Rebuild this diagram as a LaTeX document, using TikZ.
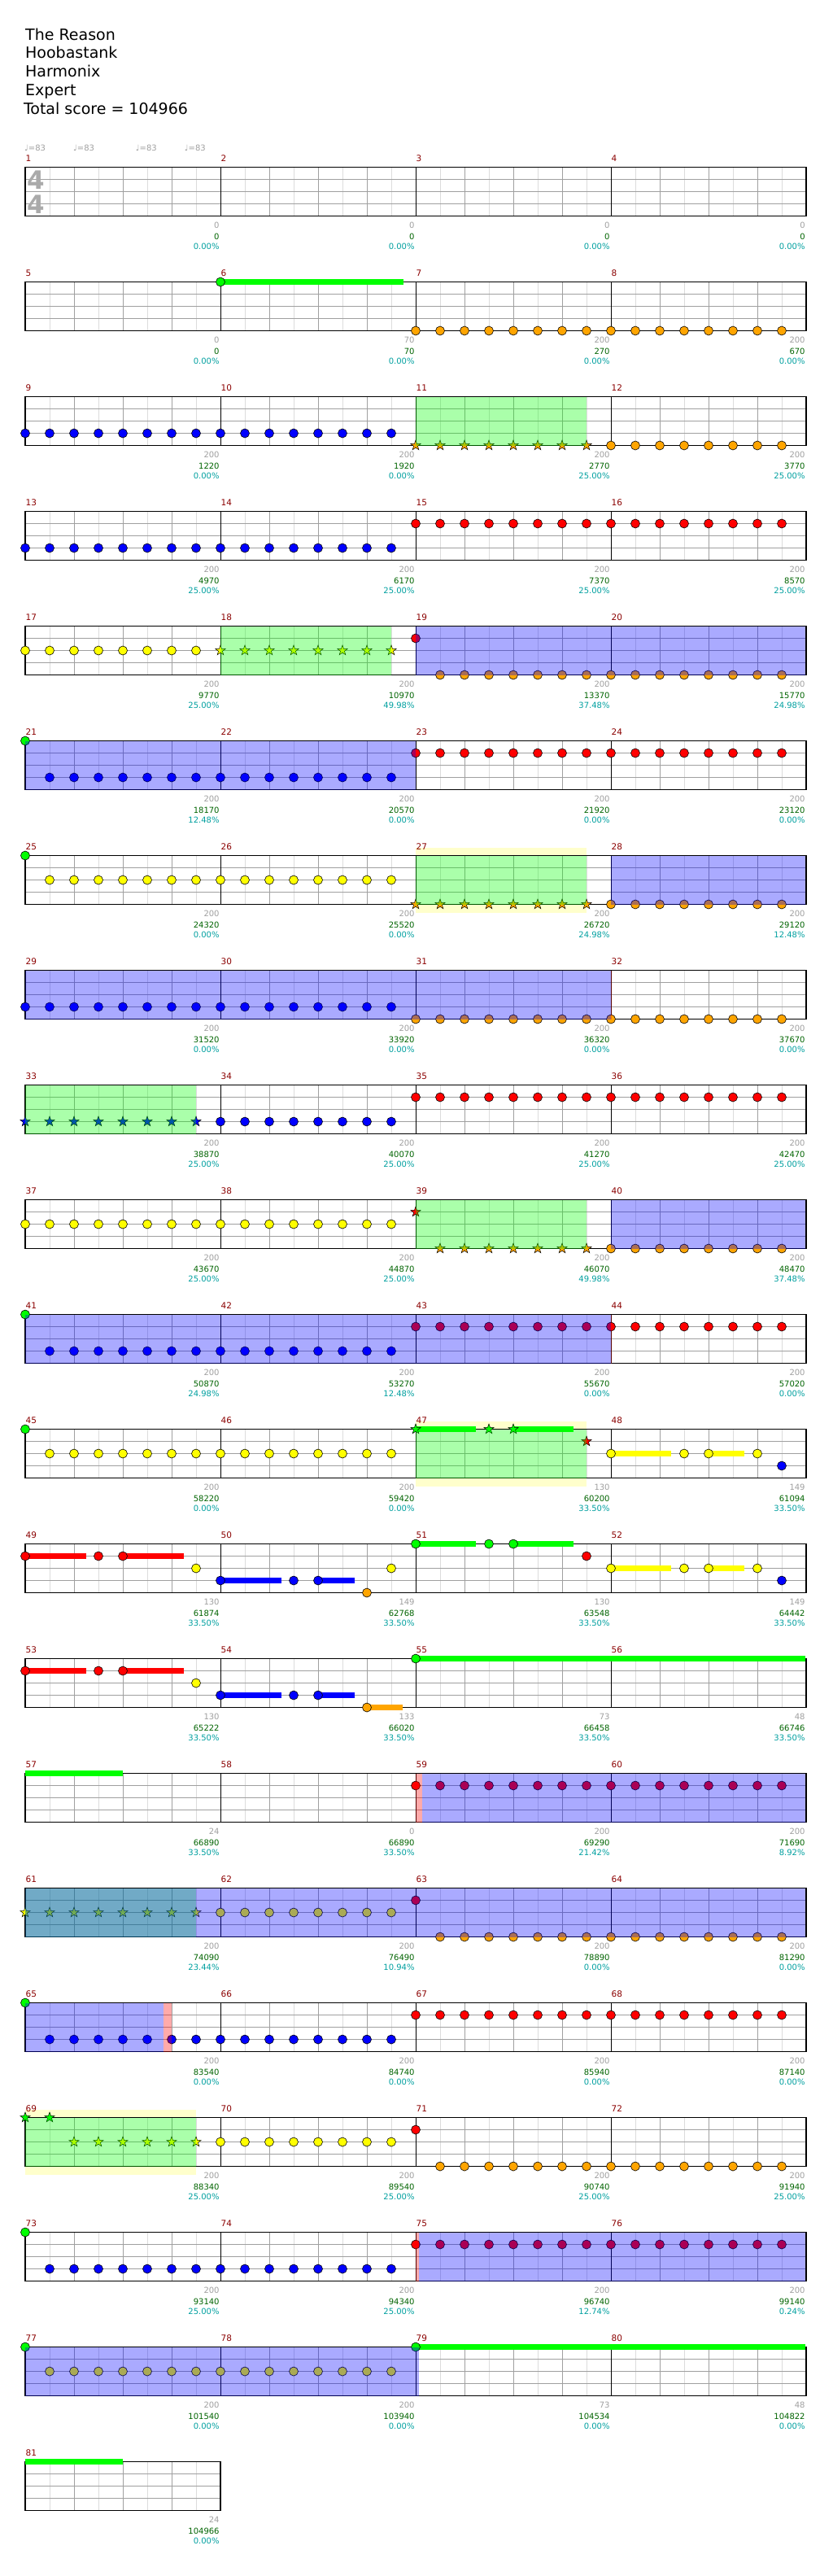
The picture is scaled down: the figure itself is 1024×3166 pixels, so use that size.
\documentclass[tikz,border=0pt]{standalone}
\usepackage{fontspec}
\setmainfont{DejaVu Sans}
\definecolor{sgray}{HTML}{A0A0A0}
\definecolor{tgreen}{HTML}{006400}
\definecolor{pcyan}{HTML}{00A0A0}
\definecolor{mred}{HTML}{8B0000}
\definecolor{gridd}{HTML}{A0A0A0}
\definecolor{gridl}{HTML}{DCDCDC}
\definecolor{nG}{HTML}{00FF00}
\definecolor{nR}{HTML}{FF0000}
\definecolor{nY}{HTML}{FFFF00}
\definecolor{nB}{HTML}{0000FF}
\definecolor{nO}{HTML}{FFA500}
\definecolor{paley}{HTML}{FFFFCC}
\definecolor{tsig}{HTML}{AAAAAA}
\tikzset{
  lbl/.style={font=\fontsize{10}{12}\selectfont, inner sep=0pt},
  mnum/.style={font=\fontsize{10.5}{12}\selectfont, text=mred, inner sep=0pt, anchor=base west},
  ttl/.style={font=\fontsize{19}{23}\selectfont, inner sep=0pt, anchor=base west},
  tmp/.style={font=\fontsize{10}{12}\selectfont, text=sgray, inner sep=0pt, anchor=base west},
  tsg/.style={font=\fontsize{31}{31}\selectfont\bfseries, text=tsig, inner sep=0pt},
  notestyle/.style={draw=black, line width=0.6pt},
  starstyle/.style={draw=black, line width=0.5pt, line join=miter}
}
% note: row, pos, lane, colour
\newcommand{\Nt}[4]{\filldraw[notestyle,fill=#4] ({31+30*#2},{205.5+141*#1+15*#3}) circle[radius=5.5pt];}
\newcommand{\Nts}[5]{\foreach \q in {#2,...,#3}{\Nt{#1}{\q}{#4}{#5}}}
% star: row, pos, lane, colour
\newcommand{\St}[4]{\filldraw[starstyle,fill=#4,shift={({31+30*#2},{205.5+141*#1+15*#3})}] (90:6.5pt) -- (126:2.6pt) -- (162:6.5pt) -- (198:2.6pt) -- (234:6.5pt) -- (270:2.6pt) -- (306:6.5pt) -- (342:2.6pt) -- (18:6.5pt) -- (54:2.6pt) -- cycle;}
\newcommand{\Sts}[5]{\foreach \q in {#2,...,#3}{\St{#1}{\q}{#4}{#5}}}
% sustain: row, x1, x2, lane, colour
\newcommand{\Su}[5]{\fill[#5] ({#2},{205.5+141*#1+15*#4-3.4}) rectangle ({#3},{205.5+141*#1+15*#4+3.4});}
% overlay region: row, x1, x2, colour
\newcommand{\Rg}[4]{\fill[#4,fill opacity=0.333] ({#2},{205.5+141*#1}) rectangle ({#3},{205.5+141*#1+60});}
% pale yellow bands above and below the staff: row, x1, x2
\newcommand{\Yr}[3]{\fill[paley] ({#2},{205.5+141*#1-10}) rectangle ({#3},{205.5+141*#1});
  \fill[paley] ({#2},{205.5+141*#1+60}) rectangle ({#3},{205.5+141*#1+70});}
% staff: row, number of measures
\newcommand{\Staff}[2]{%
  \pgfmathsetmacro{\ty}{205.5+141*#1}%
  \pgfmathsetmacro{\xe}{31+240*#2}%
  \pgfmathtruncatemacro{\nk}{8*#2-1}%
  \foreach \k in {1,3,...,\nk}{\draw[gridl,line width=1pt] ({31+30*\k},\ty) -- ({31+30*\k},{\ty+60});}
  \foreach \k in {2,4,...,\nk}{\draw[gridd,line width=1pt] ({31+30*\k},\ty) -- ({31+30*\k},{\ty+60});}
  \foreach \j in {1,2,3}{\draw[gridd,line width=1pt] (31,{\ty+15*\j}) -- (\xe,{\ty+15*\j});}
  \foreach \m in {1,...,#2}{\draw[black,line width=1pt] ({31+240*\m},\ty) -- ({31+240*\m},{\ty+60});}
  \draw[black,line width=1.2pt] (31,\ty) rectangle (\xe,{\ty+60});
}
% labels: row, column, measure, score, total, percent
\newcommand{\Lb}[6]{%
  \pgfmathsetmacro{\ly}{205.5+141*#1}%
  \pgfmathsetmacro{\lx}{31+240*(#2+1)-1.2}%
  \node[lbl,text=sgray,anchor=base east] (sc#3) at ({\lx},{\ly+75.4}) {#4};
  \node[lbl,text=tgreen,anchor=base east] (tot#3) at ({\lx},{\ly+89}) {#5};
  \node[lbl,text=pcyan,anchor=base east] (pc#3) at ({\lx},{\ly+101.4}) {#6};
  \node[mnum] (mn#3) at ({31+240*#2+0.5},{\ly-7.3}) {#3};
}
\begin{document}
\begin{tikzpicture}[x=1pt,y=-1pt]
\useasboundingbox (0,0) rectangle (1024,3166);
\fill[white] (0,0) rectangle (1024,3166);
% header
\node[ttl] (title) at (31,49.3) {The Reason};
\node[ttl] (artist) at (31,72) {Hoobastank};
\node[ttl] (charter) at (31,95) {Harmonix};
\node[ttl] (diff) at (31,118) {Expert};
\node[ttl] (total) at (28.8,141) {Total score = 104966};
% row 0
\Staff{0}{4}
\node[tsg] (ts1) at (44,221) {4};
\node[tsg] (ts2) at (44,251) {4};
\node[tmp] (tp1) at (30,185.3) {♩=83};
\node[tmp] (tp2) at (90,185.3) {♩=83};
\node[tmp] (tp3) at (166.7,185.3) {♩=83};
\node[tmp] (tp4) at (226.7,185.3) {♩=83};
\Lb{0}{0}{1}{0}{0}{0.00\%}
\Lb{0}{1}{2}{0}{0}{0.00\%}
\Lb{0}{2}{3}{0}{0}{0.00\%}
\Lb{0}{3}{4}{0}{0}{0.00\%}
% row 1
\Staff{1}{4}
\Su{1}{271}{495.7}{0}{nG}
\Nt{1}{8}{0}{nG}
\Nts{1}{16}{31}{4}{nO}
\Lb{1}{0}{5}{0}{0}{0.00\%}
\Lb{1}{1}{6}{70}{70}{0.00\%}
\Lb{1}{2}{7}{200}{270}{0.00\%}
\Lb{1}{3}{8}{200}{670}{0.00\%}
% row 2
\Staff{2}{4}
\Nts{2}{0}{15}{3}{nB}
\Sts{2}{16}{23}{4}{nO}
\Nts{2}{24}{31}{4}{nO}
\Rg{2}{511}{721}{nG}
\Lb{2}{0}{9}{200}{1220}{0.00\%}
\Lb{2}{1}{10}{200}{1920}{0.00\%}
\Lb{2}{2}{11}{200}{2770}{25.00\%}
\Lb{2}{3}{12}{200}{3770}{25.00\%}
% row 3
\Staff{3}{4}
\Nts{3}{0}{15}{3}{nB}
\Nts{3}{16}{31}{1}{nR}
\Lb{3}{0}{13}{200}{4970}{25.00\%}
\Lb{3}{1}{14}{200}{6170}{25.00\%}
\Lb{3}{2}{15}{200}{7370}{25.00\%}
\Lb{3}{3}{16}{200}{8570}{25.00\%}
% row 4
\Staff{4}{4}
\Nts{4}{0}{7}{2}{nY}
\Sts{4}{8}{15}{2}{nY}
\Nt{4}{16}{1}{nR}
\Nts{4}{17}{31}{4}{nO}
\Rg{4}{271}{481}{nG}
\Rg{4}{511}{990}{nB}
\Lb{4}{0}{17}{200}{9770}{25.00\%}
\Lb{4}{1}{18}{200}{10970}{49.98\%}
\Lb{4}{2}{19}{200}{13370}{37.48\%}
\Lb{4}{3}{20}{200}{15770}{24.98\%}
% row 5
\Staff{5}{4}
\Nt{5}{0}{0}{nG}
\Nts{5}{1}{15}{3}{nB}
\Nts{5}{16}{31}{1}{nR}
\Rg{5}{31}{511}{nB}
\Lb{5}{0}{21}{200}{18170}{12.48\%}
\Lb{5}{1}{22}{200}{20570}{0.00\%}
\Lb{5}{2}{23}{200}{21920}{0.00\%}
\Lb{5}{3}{24}{200}{23120}{0.00\%}
% row 6
\Yr{6}{511}{721}
\Staff{6}{4}
\Nt{6}{0}{0}{nG}
\Nts{6}{1}{15}{2}{nY}
\Sts{6}{16}{23}{4}{nO}
\Nts{6}{24}{31}{4}{nO}
\Rg{6}{511}{721}{nG}
\Rg{6}{751}{990}{nB}
\Lb{6}{0}{25}{200}{24320}{0.00\%}
\Lb{6}{1}{26}{200}{25520}{0.00\%}
\Lb{6}{2}{27}{200}{26720}{24.98\%}
\Lb{6}{3}{28}{200}{29120}{12.48\%}
% row 7
\Staff{7}{4}
\Nts{7}{0}{15}{3}{nB}
\Nts{7}{16}{31}{4}{nO}
\Rg{7}{31}{751}{nB}
\Rg{7}{751}{752}{nR}
\Lb{7}{0}{29}{200}{31520}{0.00\%}
\Lb{7}{1}{30}{200}{33920}{0.00\%}
\Lb{7}{2}{31}{200}{36320}{0.00\%}
\Lb{7}{3}{32}{200}{37670}{0.00\%}
% row 8
\Staff{8}{4}
\Sts{8}{0}{7}{3}{nB}
\Nts{8}{8}{15}{3}{nB}
\Nts{8}{16}{31}{1}{nR}
\Rg{8}{31}{241}{nG}
\Lb{8}{0}{33}{200}{38870}{25.00\%}
\Lb{8}{1}{34}{200}{40070}{25.00\%}
\Lb{8}{2}{35}{200}{41270}{25.00\%}
\Lb{8}{3}{36}{200}{42470}{25.00\%}
% row 9
\Staff{9}{4}
\Nts{9}{0}{15}{2}{nY}
\St{9}{16}{1}{nR}
\Sts{9}{17}{23}{4}{nO}
\Nts{9}{24}{31}{4}{nO}
\Rg{9}{511}{721}{nG}
\Rg{9}{751}{990}{nB}
\Lb{9}{0}{37}{200}{43670}{25.00\%}
\Lb{9}{1}{38}{200}{44870}{25.00\%}
\Lb{9}{2}{39}{200}{46070}{49.98\%}
\Lb{9}{3}{40}{200}{48470}{37.48\%}
% row 10
\Staff{10}{4}
\Nt{10}{0}{0}{nG}
\Nts{10}{1}{15}{3}{nB}
\Nts{10}{16}{31}{1}{nR}
\Rg{10}{31}{751}{nB}
\Rg{10}{751}{752}{nR}
\Lb{10}{0}{41}{200}{50870}{24.98\%}
\Lb{10}{1}{42}{200}{53270}{12.48\%}
\Lb{10}{2}{43}{200}{55670}{0.00\%}
\Lb{10}{3}{44}{200}{57020}{0.00\%}
% row 11
\Yr{11}{511}{721}
\Staff{11}{4}
\Nt{11}{0}{0}{nG}
\Nts{11}{1}{15}{2}{nY}
\Su{11}{511}{585}{0}{nG}
\Su{11}{631}{705}{0}{nG}
\Su{11}{751}{825}{2}{nY}
\Su{11}{871}{915}{2}{nY}
\St{11}{16}{0}{nG}
\St{11}{19}{0}{nG}
\St{11}{20}{0}{nG}
\St{11}{23}{1}{nR}
\Nt{11}{24}{2}{nY}
\Nt{11}{27}{2}{nY}
\Nt{11}{28}{2}{nY}
\Nt{11}{30}{2}{nY}
\Nt{11}{31}{3}{nB}
\Rg{11}{511}{721}{nG}
\Lb{11}{0}{45}{200}{58220}{0.00\%}
\Lb{11}{1}{46}{200}{59420}{0.00\%}
\Lb{11}{2}{47}{130}{60200}{33.50\%}
\Lb{11}{3}{48}{149}{61094}{33.50\%}
% row 12
\Staff{12}{4}
\Su{12}{31}{105.7}{1}{nR}
\Su{12}{151}{225.7}{1}{nR}
\Su{12}{271}{345.7}{3}{nB}
\Su{12}{391}{435.7}{3}{nB}
\Su{12}{511}{585}{0}{nG}
\Su{12}{631}{705}{0}{nG}
\Su{12}{751}{825}{2}{nY}
\Su{12}{871}{915}{2}{nY}
\Nt{12}{0}{1}{nR}
\Nt{12}{3}{1}{nR}
\Nt{12}{4}{1}{nR}
\Nt{12}{7}{2}{nY}
\Nt{12}{8}{3}{nB}
\Nt{12}{11}{3}{nB}
\Nt{12}{12}{3}{nB}
\Nt{12}{14}{4}{nO}
\Nt{12}{15}{2}{nY}
\Nt{12}{16}{0}{nG}
\Nt{12}{19}{0}{nG}
\Nt{12}{20}{0}{nG}
\Nt{12}{23}{1}{nR}
\Nt{12}{24}{2}{nY}
\Nt{12}{27}{2}{nY}
\Nt{12}{28}{2}{nY}
\Nt{12}{30}{2}{nY}
\Nt{12}{31}{3}{nB}
\Lb{12}{0}{49}{130}{61874}{33.50\%}
\Lb{12}{1}{50}{149}{62768}{33.50\%}
\Lb{12}{2}{51}{130}{63548}{33.50\%}
\Lb{12}{3}{52}{149}{64442}{33.50\%}
% row 13
\Staff{13}{4}
\Su{13}{31}{105.7}{1}{nR}
\Su{13}{151}{225.7}{1}{nR}
\Su{13}{271}{345.7}{3}{nB}
\Su{13}{391}{435.7}{3}{nB}
\Su{13}{451}{495}{4}{nO}
\Su{13}{511}{990}{0}{nG}
\Nt{13}{0}{1}{nR}
\Nt{13}{3}{1}{nR}
\Nt{13}{4}{1}{nR}
\Nt{13}{7}{2}{nY}
\Nt{13}{8}{3}{nB}
\Nt{13}{11}{3}{nB}
\Nt{13}{12}{3}{nB}
\Nt{13}{14}{4}{nO}
\Nt{13}{16}{0}{nG}
\Lb{13}{0}{53}{130}{65222}{33.50\%}
\Lb{13}{1}{54}{133}{66020}{33.50\%}
\Lb{13}{2}{55}{73}{66458}{33.50\%}
\Lb{13}{3}{56}{48}{66746}{33.50\%}
% row 14
\Staff{14}{4}
\Su{14}{31}{151}{0}{nG}
\Nts{14}{16}{31}{1}{nR}
\Rg{14}{511}{519}{nR}
\Rg{14}{519}{990}{nB}
\Lb{14}{0}{57}{24}{66890}{33.50\%}
\Lb{14}{1}{58}{0}{66890}{33.50\%}
\Lb{14}{2}{59}{200}{69290}{21.42\%}
\Lb{14}{3}{60}{200}{71690}{8.92\%}
% row 15
\Staff{15}{4}
\Sts{15}{0}{7}{2}{nY}
\Nts{15}{8}{15}{2}{nY}
\Nt{15}{16}{1}{nR}
\Nts{15}{17}{31}{4}{nO}
\Rg{15}{31}{241}{nG}
\Rg{15}{31}{990}{nB}
\Lb{15}{0}{61}{200}{74090}{23.44\%}
\Lb{15}{1}{62}{200}{76490}{10.94\%}
\Lb{15}{2}{63}{200}{78890}{0.00\%}
\Lb{15}{3}{64}{200}{81290}{0.00\%}
% row 16
\Staff{16}{4}
\Nt{16}{0}{0}{nG}
\Nts{16}{1}{15}{3}{nB}
\Nts{16}{16}{31}{1}{nR}
\Rg{16}{31}{201}{nB}
\Rg{16}{201}{211}{nR}
\Lb{16}{0}{65}{200}{83540}{0.00\%}
\Lb{16}{1}{66}{200}{84740}{0.00\%}
\Lb{16}{2}{67}{200}{85940}{0.00\%}
\Lb{16}{3}{68}{200}{87140}{0.00\%}
% row 17
\Yr{17}{31}{241}
\Staff{17}{4}
\St{17}{0}{0}{nG}
\St{17}{1}{0}{nG}
\Sts{17}{2}{7}{2}{nY}
\Nts{17}{8}{15}{2}{nY}
\Nt{17}{16}{1}{nR}
\Nts{17}{17}{31}{4}{nO}
\Rg{17}{31}{241}{nG}
\Lb{17}{0}{69}{200}{88340}{25.00\%}
\Lb{17}{1}{70}{200}{89540}{25.00\%}
\Lb{17}{2}{71}{200}{90740}{25.00\%}
\Lb{17}{3}{72}{200}{91940}{25.00\%}
% row 18
\Staff{18}{4}
\Nt{18}{0}{0}{nG}
\Nts{18}{1}{15}{3}{nB}
\Nts{18}{16}{31}{1}{nR}
\Rg{18}{511}{514.6}{nR}
\Rg{18}{514.6}{990}{nB}
\Lb{18}{0}{73}{200}{93140}{25.00\%}
\Lb{18}{1}{74}{200}{94340}{25.00\%}
\Lb{18}{2}{75}{200}{96740}{12.74\%}
\Lb{18}{3}{76}{200}{99140}{0.24\%}
% row 19
\Staff{19}{4}
\Su{19}{511}{990}{0}{nG}
\Nt{19}{0}{0}{nG}
\Nts{19}{1}{15}{2}{nY}
\Nt{19}{16}{0}{nG}
\Rg{19}{31}{514.6}{nB}
\Lb{19}{0}{77}{200}{101540}{0.00\%}
\Lb{19}{1}{78}{200}{103940}{0.00\%}
\Lb{19}{2}{79}{73}{104534}{0.00\%}
\Lb{19}{3}{80}{48}{104822}{0.00\%}
% row 20
\Staff{20}{1}
\Su{20}{31}{151}{0}{nG}
\Lb{20}{0}{81}{24}{104966}{0.00\%}
\end{tikzpicture}
\end{document}
